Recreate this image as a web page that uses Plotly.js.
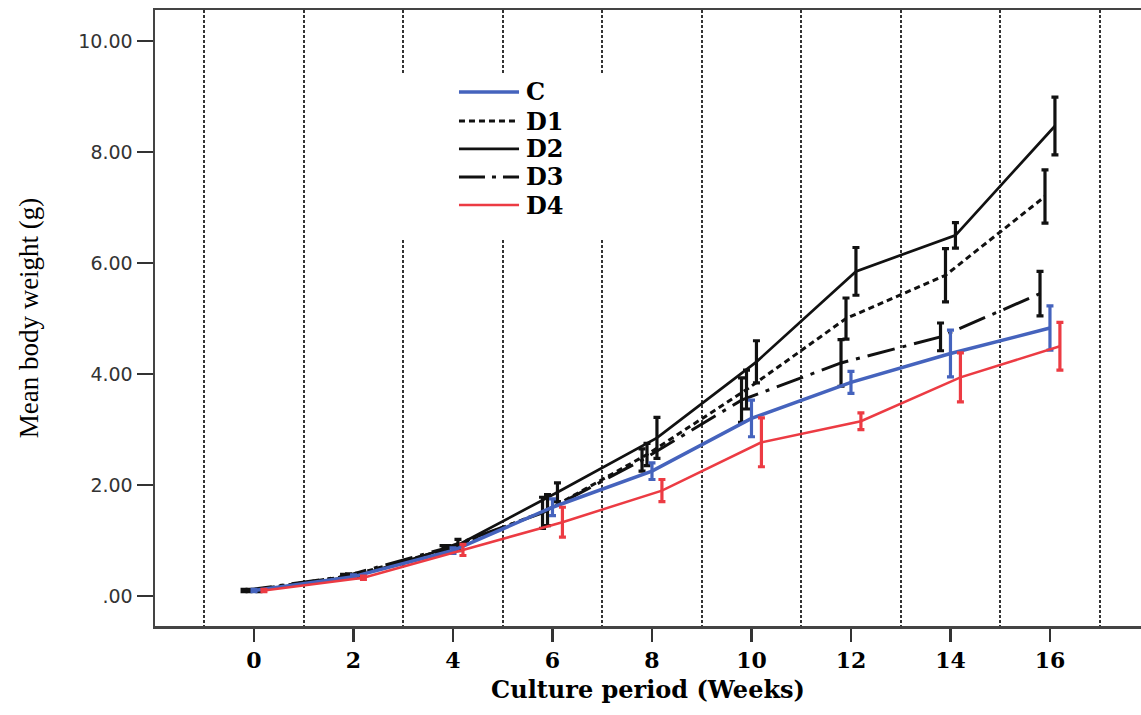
<!DOCTYPE html>
<html>
<head>
<meta charset="utf-8">
<script src="https://cdn.plot.ly/plotly-3.0.1.min.js"></script>
<style>html,body{margin:0;padding:0;background:#fff;} #chart{width:1141px;height:715px;}</style>
</head>
<body>
<div id="chart"></div>
<script>
// ---- data ----
const weeks = [0, 2, 4, 6, 8, 10, 12, 14, 16];
const seriesNames = ["C", "D1", "D2", "D3", "D4"];
const valC  = [0.10, 0.35, 0.82, 1.60, 2.25, 3.20, 3.85, 4.37, 4.83];
const errC  = [0.02, 0.03, 0.05, 0.15, 0.15, 0.33, 0.20, 0.42, 0.40];
const valD1 = [0.10, 0.36, 0.85, 1.55, 2.55, 3.72, 5.00, 5.78, 7.20];
const errD1 = [0.02, 0.04, 0.06, 0.28, 0.20, 0.35, 0.37, 0.48, 0.48];
const valD2 = [0.10, 0.37, 0.92, 1.87, 2.85, 4.22, 5.85, 6.50, 8.47];
const errD2 = [0.02, 0.04, 0.10, 0.17, 0.37, 0.38, 0.43, 0.23, 0.52];
const valD3 = [0.10, 0.35, 0.85, 1.50, 2.45, 3.53, 4.20, 4.67, 5.45];
const errD3 = [0.02, 0.04, 0.06, 0.28, 0.20, 0.40, 0.42, 0.25, 0.40];
const valD4 = [0.10, 0.33, 0.83, 1.33, 1.90, 2.77, 3.15, 3.94, 4.50];
const errD4 = [0.02, 0.03, 0.10, 0.27, 0.20, 0.44, 0.15, 0.44, 0.43];
const yTickVals = [0, 2, 4, 6, 8, 10];
const yTickText = [".00", "2.00", "4.00", "6.00", "8.00", "10.00"];
const xTickVals = [0, 2, 4, 6, 8, 10, 12, 14, 16];
const xGridVals = [-1, 1, 3, 5, 7, 9, 11, 13, 15, 17];

// ---- styles ----
const styles = {
  C:  {color: "#4563BD", width: 3.5, dash: "solid", offset: 0.0},
  D1: {color: "#111111", width: 3,   dash: "6px,4px", offset: -0.1},
  D2: {color: "#111111", width: 2.7, dash: "solid", offset: 0.1},
  D3: {color: "#111111", width: 3,   dash: "28px,8px,4px,8px", offset: -0.2},
  D4: {color: "#EC3B43", width: 2.5, dash: "solid", offset: 0.2}
};
const seriesData = {C: [valC, errC], D1: [valD1, errD1], D2: [valD2, errD2], D3: [valD3, errD3], D4: [valD4, errD4]};

const drawOrder = ["D1", "D2", "D3", "C", "D4"];
const traces = drawOrder.map(name => {
  const s = styles[name];
  const [vals, errs] = seriesData[name];
  return {
    type: "scatter", mode: "lines", name: name,
    x: weeks.map(w => w + s.offset), y: vals,
    line: {color: s.color, width: s.width, dash: s.dash},
    error_y: {type: "data", array: errs, visible: true, color: s.color, thickness: 3.2, width: 3.5},
    showlegend: false, hoverinfo: "x+y"
  };
});

// ---- manual legend (paper coords) ----
const shapes = [{
  type: "rect", xref: "paper", yref: "paper", layer: "above",
  x0: 0.2485, x1: 0.4615, y0: 0.6266, y1: 0.8945,
  fillcolor: "#ffffff", line: {width: 0}
}];
const annotations = [];
const rowY = [0.8669, 0.8198, 0.7744, 0.7289, 0.6834];
seriesNames.forEach((name, i) => {
  const s = styles[name];
  shapes.push({
    type: "line", xref: "paper", yref: "paper", layer: "above",
    x0: 0.3083, x1: 0.3692, y0: rowY[i], y1: rowY[i],
    line: {color: s.color, width: s.width, dash: name === "D3" ? "26px,7px,4px,7px" : s.dash}
  });
  annotations.push({
    xref: "paper", yref: "paper", x: 0.3743, y: rowY[i], xanchor: "left", yanchor: "middle",
    text: "<b>" + name + "</b>", showarrow: false,
    font: {family: "DejaVu Serif", size: 24, color: "#000"}
  });
});

const layout = {
  width: 1141, height: 715,
  margin: {l: 155, r: 0, t: 10, b: 89},
  paper_bgcolor: "#fff", plot_bgcolor: "#fff",
  showlegend: false,
  xaxis: {
    range: [-1.99, 17.83], tickmode: "array", tickvals: xTickVals,
    ticks: "outside", ticklen: 13, tickwidth: 2.5, tickcolor: "#333",
    showgrid: false, zeroline: false,
    showline: true, linecolor: "#444", linewidth: 2.5, mirror: true,
    tickfont: {family: "DejaVu Serif", size: 22, color: "#000", weight: "bold"},
    minor: {tickmode: "array", tickvals: xGridVals, ticks: "", showgrid: true,
            gridcolor: "#333", gridwidth: 2.2, griddash: "3px,2px"},
    title: {text: "<b>Culture period (Weeks)</b>", font: {family: "DejaVu Serif", size: 24, color: "#000"}, standoff: 10}
  },
  yaxis: {
    range: [-0.54, 10.56], tickmode: "array", tickvals: yTickVals, ticktext: yTickText,
    ticks: "outside", ticklen: 16, tickwidth: 2.5, tickcolor: "#333",
    showgrid: false, zeroline: false,
    showline: true, linecolor: "#444", linewidth: 2.5,
    tickfont: {family: "DejaVu Sans", size: 19, color: "#333"},
    title: {text: "Mean body weight (g)", font: {family: "Liberation Serif", size: 27, color: "#000"}, standoff: 32}
  },
  shapes: shapes,
  annotations: annotations
};

Plotly.newPlot("chart", traces, layout, {displayModeBar: false, staticPlot: true});
</script>
</body>
</html>
